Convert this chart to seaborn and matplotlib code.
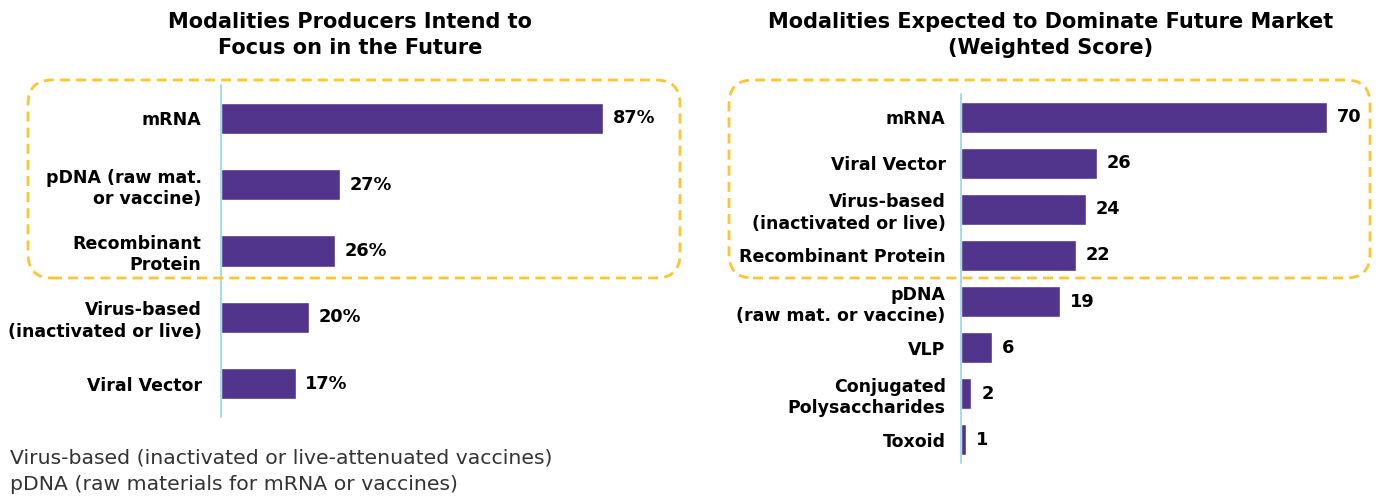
import matplotlib
matplotlib.use("Agg")
import matplotlib.pyplot as plt
import seaborn as sns
import pandas as pd
from matplotlib.patches import FancyBboxPatch
from matplotlib.transforms import IdentityTransform

# data
focus_labels = ["mRNA", "pDNA (raw mat.\nor vaccine)", "Recombinant\nProtein",
                "Virus-based\n(inactivated or live)", "Viral Vector"]
focus_values = [87, 27, 26, 20, 17]

market_labels = ["mRNA", "Viral Vector", "Virus-based\n(inactivated or live)",
                 "Recombinant Protein", "pDNA\n(raw mat. or vaccine)", "VLP",
                 "Conjugated\nPolysaccharides", "Toxoid"]
market_values = [70, 26, 24, 22, 19, 6, 2, 1]

left_title = "Modalities Producers Intend to\nFocus on in the Future"
right_title = "Modalities Expected to Dominate Future Market\n(Weighted Score)"
footnotes = ["Virus-based (inactivated or live-attenuated vaccines)",
             "pDNA (raw materials for mRNA or vaccines)"]

BAR = "#51348B"
AXLINE = "#8ED2E6"
GOLD = "#FDC532"

sns.set_theme(style="white")
plt.rcParams["font.family"] = ["DejaVu Sans"]

W, H = 1385, 497
fig = plt.figure(figsize=(W / 100, H / 100), dpi=100)


def px_axes(left, top, width, height):
    return fig.add_axes([left / W, (H - top - height) / H, width / W, height / H])


def draw_panel(ax, labels, values, xmax, fmt, bar_h, pad):
    df = pd.DataFrame({"label": labels, "value": values})
    sns.barplot(data=df, x="value", y="label", orient="h", color=BAR,
                width=bar_h, saturation=1, ax=ax)
    ax.set_xlim(0, xmax)
    ax.set_ylim(len(labels) - 0.5, -0.5)
    for s in ["top", "right", "bottom"]:
        ax.spines[s].set_visible(False)
    ax.spines["left"].set_color(AXLINE)
    ax.spines["left"].set_linewidth(1.1)
    ax.set_xticks([])
    ax.set_xlabel("")
    ax.set_ylabel("")
    ax.tick_params(axis="y", length=0, pad=pad, labelcolor="black")
    for t in ax.get_yticklabels():
        t.set_fontweight("bold")
        t.set_fontsize(12.5)
        t.set_linespacing(1.25)
        t.set_multialignment("right")
    ax.bar_label(ax.containers[0], labels=[fmt.format(v) for v in values],
                 padding=7, fontsize=12.8, fontweight="bold", color="black")
    ax.patch.set_alpha(0)


ax1 = px_axes(221, 85, 439, 332)
draw_panel(ax1, focus_labels, focus_values, 100, "{}%", 0.47, 14)

ax2 = px_axes(961, 94, 418, 369)
draw_panel(ax2, market_labels, market_values, 80, "{}", 0.67, 11)

# titles
fig.text(350 / W, 1 - 35 / H, left_title, ha="center", va="center",
         fontsize=15, fontweight="bold", linespacing=1.4, color="black")
fig.text(1051 / W, 1 - 35 / H, right_title, ha="center", va="center",
         fontsize=15, fontweight="bold", linespacing=1.4, color="black")

# dashed highlight boxes (pixel coords)
for x0, x1 in [(28, 680), (729, 1370)]:
    box = FancyBboxPatch((x0, H - 278), x1 - x0, 198,
                         boxstyle="round,pad=0,rounding_size=24",
                         transform=IdentityTransform(), fill=False,
                         edgecolor=GOLD, linewidth=2.0, linestyle=(0, (3.6, 2.2)))
    fig.add_artist(box)

# footnotes
for i, note in enumerate(footnotes):
    fig.text(10 / W, 1 - (458 + i * 26) / H, note, ha="left", va="center",
             fontsize=14.7, color="#333333")

fig.savefig("out.png", dpi=100)
